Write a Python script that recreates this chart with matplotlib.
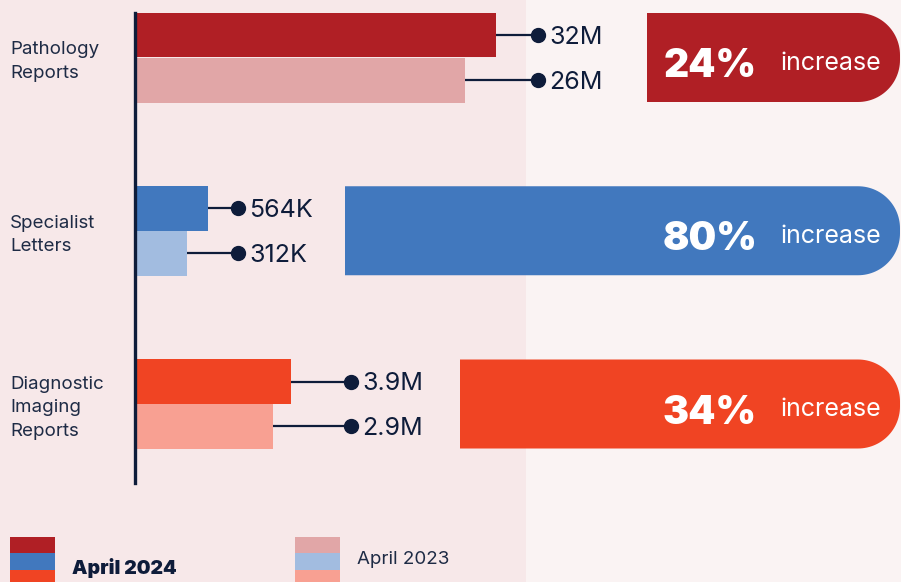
import matplotlib
matplotlib.use("Agg")
import numpy as np
import matplotlib.pyplot as plt
from matplotlib.patches import Rectangle, Polygon

# ---------------- data ----------------
categories = ["Pathology\nReports", "Specialist\nLetters", "Diagnostic\nImaging\nReports"]
labels_2024 = ["32M", "564K", "3.9M"]
labels_2023 = ["26M", "312K", "2.9M"]
# bar lengths as drawn in the reference (display units)
bar_2024 = [359, 71, 154]
bar_2023 = [328, 50, 136]
dot_pos = [401, 101, 214]
pct_labels = ["24%", "80%", "34%"]
pill_start = [647, 345, 460]
legend_labels = ["April 2024", "April 2023"]

colors_2024 = ["#B01F25", "#4178BE", "#F04423"]
colors_2023 = ["#E1A6A7", "#A2BCE0", "#F8A092"]
navy = "#0E1C3A"
text_col = "#1E2B45"
bg_left = "#F7E8E9"
bg_right = "#FAF3F3"

W, H = 901, 582
fig = plt.figure(figsize=(W / 100, H / 100), dpi=100)
fig.patch.set_facecolor(bg_right)

# background left panel
fig.patches.append(Rectangle((0, 0), 526 / W, 1, transform=fig.transFigure,
                             facecolor=bg_left, edgecolor="none", zorder=-5))

ORIGIN = 137              # pixel x of bar baseline
GC0, GSTEP = 57.5, 173.25  # pixel y of first group centre, spacing
font = "Inter"

# pixel overlay axes (for pills), drawn below the main axes
axp = fig.add_axes([0, 0, 1, 1], zorder=0)
axp.set_xlim(0, W)
axp.set_ylim(H, 0)
axp.axis("off")
axp.patch.set_alpha(0)

ax = fig.add_axes([0, 0, 1, 1], zorder=1)
ax.set_xlim(-ORIGIN, W - ORIGIN)
ax.set_ylim((H - GC0) / GSTEP, -GC0 / GSTEP)
ax.patch.set_alpha(0)
for s in ["top", "right", "bottom"]:
    ax.spines[s].set_visible(False)
ax.set_xticks([])
ax.set_yticks([])
ax.spines["left"].set_position(("data", -2))
ax.spines["left"].set_bounds((13 - GC0) / GSTEP, (483 - GC0) / GSTEP)
ax.spines["left"].set_color(navy)
ax.spines["left"].set_linewidth(2.4)
ax.spines["left"].set_zorder(5)

bh = 45 / GSTEP
ypx = 1 / GSTEP


def pill_vertices(x0, x1, ytop, ybot, r):
    t = np.linspace(0, np.pi / 2, 30)
    # top-right corner (y axis inverted: ytop < ybot)
    tr = np.column_stack([x1 - r + r * np.sin(t), ytop + r - r * np.cos(t)])
    br = np.column_stack([x1 - r + r * np.cos(t), ybot - r + r * np.sin(t)])
    pts = [(x0, ytop)] + tr.tolist() + br.tolist() + [(x0, ybot)]
    return np.array(pts)


for i, cat in enumerate(categories):
    y1 = i - bh / 2
    y2 = i + bh / 2
    ax.barh(y1, bar_2024[i], height=bh, left=0, color=colors_2024[i], zorder=3)
    ax.barh(y2, bar_2023[i], height=bh, left=0, color=colors_2023[i], zorder=3)
    for y, b, lab in [(y1, bar_2024[i], labels_2024[i]), (y2, bar_2023[i], labels_2023[i])]:
        ax.plot([b, dot_pos[i]], [y, y], color=navy, lw=1.6, zorder=2)
        ax.plot([dot_pos[i]], [y], "o", color=navy, ms=10, zorder=4)
        ax.text(dot_pos[i] + 11, y, lab, fontsize=18, family=font, color=navy,
                ha="left", va="center_baseline", zorder=4)
    # category label
    ax.text(10 - ORIGIN, i + 4 * ypx, cat, fontsize=13.5, family=font, color=text_col,
            ha="left", va="center", linespacing=1.48, zorder=4)

    # pill (pixel coordinates)
    cy = GC0 + GSTEP * i
    ph = 89
    verts = pill_vertices(pill_start[i], 900, cy - ph / 2, cy + ph / 2, 42)
    axp.add_patch(Polygon(verts, closed=True, facecolor=colors_2024[i],
                          edgecolor="none", zorder=2))
    axp.text(757, cy + 5, pct_labels[i], fontsize=28, family=font,
             fontweight=900, color="white", ha="right", va="center_baseline", zorder=4)
    axp.text(780, cy + 3, "increase", fontsize=18, family=font,
             color="white", ha="left", va="center_baseline", zorder=4)

# legend
def fig_rect(x, y, w, h, c):
    fig.patches.append(Rectangle((x / W, 1 - (y + h) / H), w / W, h / H,
                                 transform=fig.transFigure, facecolor=c,
                                 edgecolor="none", zorder=3))

for k, c in enumerate(colors_2024):
    fig_rect(10, 537 + 16.3 * k, 45, 16.3, c)
for k, c in enumerate(colors_2023):
    fig_rect(295, 537 + 16.3 * k, 45, 16.3, c)
fig.text(72 / W, 1 - 566 / H, legend_labels[0], fontsize=14, family=font,
         fontweight=900, color=navy, ha="left", va="center_baseline")
fig.text(357 / W, 1 - 558 / H, legend_labels[1], fontsize=13.5, family=font,
         color=text_col, ha="left", va="center_baseline")

fig.savefig("out.png", dpi=100, facecolor=fig.get_facecolor())
